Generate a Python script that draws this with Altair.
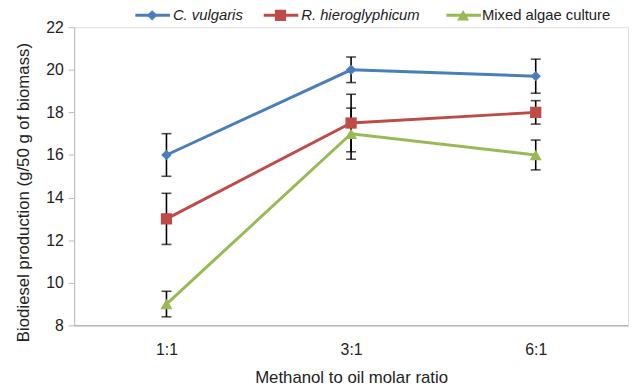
import altair as alt
import pandas as pd

ratios = ["1:1", "3:1", "6:1"]
series = ["C. vulgaris", "R. hieroglyphicum", "Mixed algae culture"]
c_vulgaris = [16.0, 20.0, 19.7]
r_hiero = [13.0, 17.5, 18.0]
mixed = [9.0, 17.0, 16.0]
err_c = [1.0, 0.6, 0.8]
err_r = [1.2, 1.35, 0.55]
err_m = [0.6, 1.2, 0.7]
colors = ["#4a7ebb", "#be4b48", "#98b954"]
shapes = ["diamond", "square", "triangle-up"]

rows = []
for s, vals, errs in zip(series, [c_vulgaris, r_hiero, mixed], [err_c, err_r, err_m]):
    for r, v, e in zip(ratios, vals, errs):
        rows.append({"ratio": r, "series": s, "value": v, "lo": v - e, "hi": v + e})
df = pd.DataFrame(rows)

FONT = "Liberation Sans"
YTITLE = "Biodiesel production (g/50 g of biomass)"
x = alt.X("ratio:N", sort=ratios, scale=alt.Scale(type="point", padding=0.5),
          title="Methanol to oil molar ratio",
          axis=alt.Axis(labelAngle=0, ticks=False, labelPadding=17, titlePadding=12,
                        domainColor="#999999", labelFontSize=16, titleFontSize=17,
                        labelColor="#222222", titleColor="#222222",
                        labelFont=FONT, titleFont=FONT, titleFontWeight="normal"))
y = alt.Y("value:Q", scale=alt.Scale(domain=[8, 22], nice=False, zero=False),
          title=YTITLE,
          axis=alt.Axis(values=list(range(8, 23, 2)), grid=False, domainColor="#bbbbbb",
                        tickColor="#bbbbbb", tickSize=6, labelPadding=5, titlePadding=13,
                        titleY=167,
                        labelFontSize=16, titleFontSize=17, labelColor="#222222",
                        titleColor="#222222", labelFont=FONT, titleFont=FONT,
                        titleFontWeight="normal"))
color = alt.Color("series:N", scale=alt.Scale(domain=series, range=colors), legend=None)
shape = alt.Shape("series:N", scale=alt.Scale(domain=series, range=shapes), legend=None)

base = alt.Chart(df)
lines = base.mark_line(strokeWidth=3).encode(x=x, y=y, color=color)
errs = base.mark_errorbar(ticks=alt.TickConfig(size=10, thickness=1.6), thickness=1.6, color="black").encode(
    x=alt.X("ratio:N", sort=ratios), y=alt.Y("lo:Q", title=YTITLE), y2="hi:Q")
points = base.mark_point(filled=True, opacity=1).encode(
    x=alt.X("ratio:N", sort=ratios), y=alt.Y("value:Q", title=YTITLE), color=color, shape=shape,
    size=alt.Size("series:N", scale=alt.Scale(domain=series, range=[110, 150, 130]), legend=None))

# custom legend
leg = pd.DataFrame({
    "series": series,
    "lx": [62, 192, 377],
    "italic": ["italic", "italic", "normal"],
})
lscale = alt.Scale(domain=[0, 561], range=[0, 561])
leg_base = alt.Chart(leg)
leg_line = leg_base.mark_rule(strokeWidth=3).encode(
    x=alt.X("lx:Q", scale=lscale, axis=None), x2=alt.X2("lx2:Q"), y=alt.value(-12), color=color
).transform_calculate(lx2="datum.lx + 35")
leg_pt = leg_base.mark_point(filled=True, opacity=1).encode(
    x=alt.X("lxm:Q", scale=lscale, axis=None),
    y=alt.value(-12), color=color, shape=shape,
    size=alt.Size("series:N", scale=alt.Scale(domain=series, range=[80, 110, 100]), legend=None)
).transform_calculate(lxm="datum.lx + 17")
leg_txt_it = leg_base.mark_text(align="left", baseline="middle", fontSize=15, font=FONT,
                                fontStyle="italic", color="#222222").encode(
    x=alt.X("lxt:Q", scale=lscale, axis=None),
    y=alt.value(-12), text="series:N"
).transform_calculate(lxt="datum.lx + 38").transform_filter("datum.italic == 'italic'")
leg_txt = leg_base.mark_text(align="left", baseline="middle", fontSize=15, font=FONT,
                             color="#222222").encode(
    x=alt.X("lxt:Q", scale=lscale, axis=None),
    y=alt.value(-12), text="series:N"
).transform_calculate(lxt="datum.lx + 36").transform_filter("datum.italic == 'normal'")

main = alt.layer(lines, errs, points)
legend = alt.layer(leg_line, leg_pt, leg_txt_it, leg_txt)

chart = alt.layer(main, legend).resolve_scale(x="independent").properties(
    width=561, height=302,
    autosize=alt.AutoSizeParams(type="none"),
    padding={"left": 67, "top": 17, "right": 2, "bottom": 60},
).configure_view(stroke=None).configure(background="white")

chart.save("out.html", embed_options={"renderer": "svg", "actions": False})
